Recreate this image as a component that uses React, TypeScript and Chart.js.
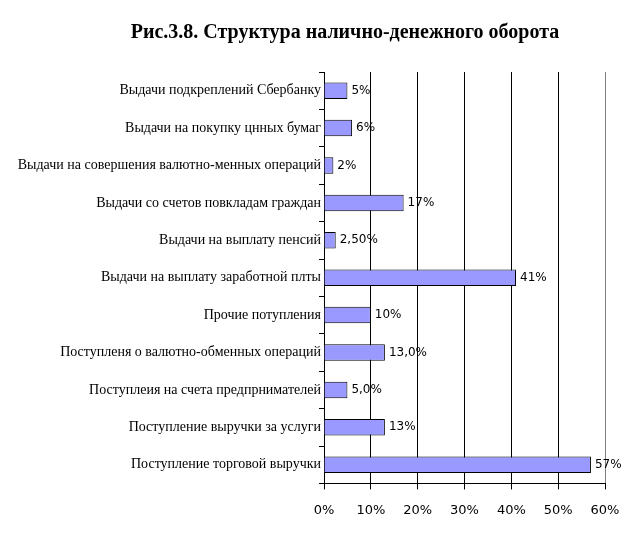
import React, { useEffect, useRef } from "react";
import { Chart, registerables } from "chart.js";

Chart.register(...registerables);

const titleText = "Рис.3.8. Структура налично-денежного оборота";
const categories = [
  "Выдачи подкреплений Сбербанку",
  "Выдачи на покупку цнных бумаг",
  "Выдачи на совершения валютно-менных операций",
  "Выдачи со счетов повкладам граждан",
  "Выдачи на выплату пенсий",
  "Выдачи на выплату заработной плты",
  "Прочие потупления",
  "Поступленя о валютно-обменных операций",
  "Поступлеия на счета предпрнимателей",
  "Поступление выручки за услуги",
  "Поступление торговой выручки",
];
const values = [5, 6, 2, 17, 2.5, 41, 10, 13, 5, 13, 57];
const valueLabels = ["5%", "6%", "2%", "17%", "2,50%", "41%", "10%", "13,0%", "5,0%", "13%", "57%"];
const xTicks = [0, 10, 20, 30, 40, 50, 60];

const dataLabelPlugin = {
  id: "dataLabels",
  afterDatasetsDraw(chart: any) {
    const ctx = chart.ctx;
    const meta = chart.getDatasetMeta(0);
    ctx.save();
    ctx.font = "12px Tahoma, 'DejaVu Sans', sans-serif";
    ctx.fillStyle = "#000";
    ctx.textAlign = "left";
    ctx.textBaseline = "middle";
    meta.data.forEach((el: any, i: number) => {
      ctx.fillText(valueLabels[i], el.x + 4, el.y);
    });
    ctx.restore();
  },
};

const titlePlugin = {
  id: "customTitle",
  afterDraw(chart: any) {
    const ctx = chart.ctx;
    ctx.save();
    ctx.font = "bold 20px 'Liberation Serif', 'Times New Roman', serif";
    ctx.fillStyle = "#000";
    ctx.textAlign = "center";
    ctx.textBaseline = "middle";
    ctx.fillText(titleText, 345, 33);
    ctx.restore();
  },
};

export default function App() {
  const ref = useRef<HTMLCanvasElement>(null);
  useEffect(() => {
    if (!ref.current) return;
    const chart = new Chart(ref.current, {
      type: "bar",
      data: {
        labels: categories,
        datasets: [
          {
            data: values,
            backgroundColor: "#9999FF",
            borderColor: "#000",
            borderWidth: 1,
            categoryPercentage: 1,
            barPercentage: 0.44,
          },
        ],
      },
      options: {
        indexAxis: "y",
        animation: false,
        responsive: false,
        layout: { padding: { left: 0, right: 32, top: 72, bottom: 8 } },
        plugins: {
          legend: { display: false },
          tooltip: { enabled: false },
          title: { display: false },
        },
        scales: {
          x: {
            min: 0,
            max: 60,
            afterBuildTicks: (scale: any) => {
              scale.ticks = xTicks.map((v) => ({ value: v }));
            },
            ticks: {
              color: "#000",
              font: { family: "Tahoma, 'DejaVu Sans', sans-serif", size: 13 },
              padding: 13,
              callback: (v: any) => v + "%",
            },
            grid: {
              color: (c: any) => (c.tick && c.tick.value === 60 ? "#808080" : "#000"),
              tickColor: "#000",
              tickLength: 6,
              lineWidth: 1,
            },
            border: { color: "#000" },
          },
          y: {
            afterFit: (scale: any) => {
              scale.width = 324;
            },
            ticks: {
              color: "#000",
              font: { family: "'Liberation Serif', 'Times New Roman', serif", size: 14 },
              padding: -2,
              autoSkip: false,
            },
            grid: {
              offset: true,
              drawOnChartArea: false,
              color: "#000",
              tickLength: 5,
            },
            border: { color: "#000" },
          },
        },
      },
      plugins: [dataLabelPlugin, titlePlugin],
    });
    return () => chart.destroy();
  }, []);
  return (
    <div style={{ position: "absolute", left: 0, top: 0, width: 637, height: 539, background: "#fff" }}>
      <canvas ref={ref} width={637} height={539} style={{ width: 637, height: 539 }} />
    </div>
  );
}
